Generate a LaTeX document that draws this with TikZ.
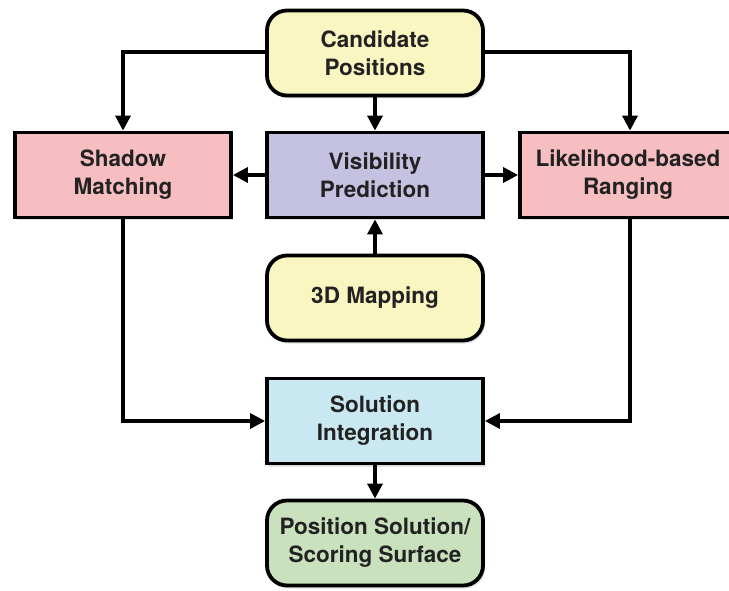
\documentclass[tikz,border=0pt]{standalone}
\usepackage{fontspec}
\setmainfont{TeX Gyre Heros}
\usetikzlibrary{arrows.meta,shadows}
\definecolor{cyellow}{HTML}{FAF6C2}
\definecolor{cpink}{HTML}{F7BEC1}
\definecolor{clav}{HTML}{C4C1E1}
\definecolor{cblue}{HTML}{CAE8F1}
\definecolor{cgreen}{HTML}{C9E2BD}
\definecolor{ctext}{HTML}{222222}
\tikzset{
  box/.style={draw=black, line width=3.8pt, minimum width=216pt, minimum height=85pt,
    align=center, text=ctext, font=\fontsize{22.5}{28}\selectfont\bfseries,
    drop shadow={opacity=0.25, shadow xshift=2pt, shadow yshift=-3pt}},
  rbox/.style={box, rounded corners=20pt},
  conn/.style={line width=3.3pt, -{Triangle[length=15pt,width=15pt]}},
}
\begin{document}
\begin{tikzpicture}[x=1pt,y=-1pt]
\useasboundingbox (0,0) rectangle (729,591);
\node[rbox, fill=cyellow] (cand) at (375,53) {Candidate\\Positions};
\node[box, fill=cpink] (shadow) at (123,175) {Shadow\\Matching};
\node[box, fill=clav] (vis) at (375,175) {Visibility\\Prediction};
\node[box, fill=cpink] (lik) at (628,175) {Likelihood-based\\Ranging};
\node[rbox, fill=cyellow] (map) at (375,298) {3D Mapping};
\node[box, fill=cblue] (sol) at (375,421) {Solution\\Integration};
\node[rbox, fill=cgreen] (pos) at (375,543) {Position Solution/\\Scoring Surface};
\coordinate (ctl) at (123,52);
\coordinate (ctr) at (630,52);
\coordinate (sbl) at (123,421);
\coordinate (lbl) at (630,421);
\draw[conn] (cand.west |- ctl) -- (ctl) -- (shadow.north -| ctl);
\draw[conn] (cand.east |- ctr) -- (ctr) -- (lik.north -| ctr);
\draw[conn] (cand.south) -- (vis.north);
\draw[conn] (vis.west) -- (shadow.east);
\draw[conn] (vis.east) -- (lik.west);
\draw[conn] (map.north) -- (vis.south);
\draw[conn] (shadow.south -| sbl) -- (sbl) -- (sol.west);
\draw[conn] (lik.south -| lbl) -- (lbl) -- (sol.east);
\draw[conn] (sol.south) -- (pos.north);
\end{tikzpicture}
\end{document}
